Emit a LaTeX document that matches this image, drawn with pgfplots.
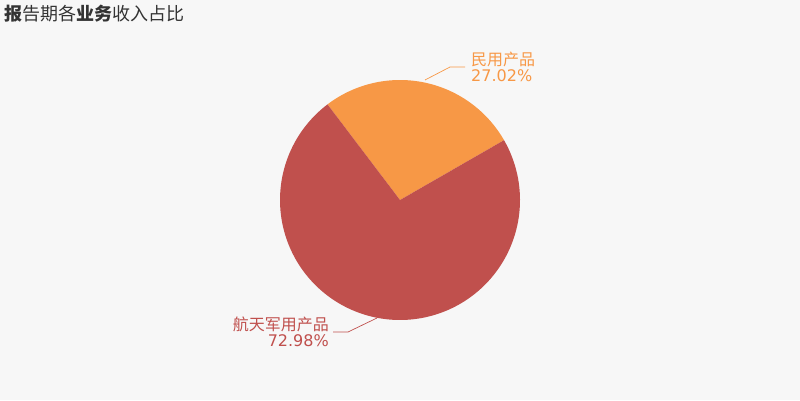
\documentclass[border=0pt]{standalone}
\usepackage{fontspec}
\setmainfont{DejaVu Sans}
\newfontfamily\cjk{Noto Sans CJK SC}
\usepackage{pgfplots}
\pgfplotsset{compat=1.18}
\usepackage{pgfplotstable}
\definecolor{bgc}{HTML}{F7F7F7}
\definecolor{orng}{HTML}{F79846}
\definecolor{redc}{HTML}{C0504D}
\definecolor{titc}{HTML}{333333}
\pgfplotstableread{
name value
civil 27.02
military 72.98
}\piedata
\begin{document}
\begin{tikzpicture}[x=1pt,y=1pt]
\fill[bgc] (0,0) rectangle (800,400);
\pgfplotstablegetelem{0}{value}\of\piedata \let\va\pgfplotsretval
\pgfplotstablegetelem{1}{value}\of\piedata \let\vb\pgfplotsretval
\pgfmathsetmacro{\sa}{29.9}
\pgfmathsetmacro{\ea}{\sa+\va*3.6}
\pgfmathsetmacro{\eb}{\ea+\vb*3.6}
\begin{axis}[at={(0,0)},anchor=south west,
  width=800pt,height=400pt,scale only axis,
  xmin=0,xmax=800,ymin=0,ymax=400,
  axis lines=none,clip=false]
\addplot[fill=orng,draw=none,domain=\sa:\ea,samples=80]
  ({400+120*cos(x)},{200+120*sin(x)}) -- (axis cs:400,200) -- cycle;
\addplot[fill=redc,draw=none,domain=\ea:\eb,samples=160]
  ({400+120*cos(x)},{200+120*sin(x)}) -- (axis cs:400,200) -- cycle;
% leader lines
\addplot[orng,line width=0.7pt,mark=none] coordinates {(425,320) (450,333) (465,333)};
\addplot[redc,line width=0.7pt,mark=none] coordinates {(377,82) (348,68) (333,68)};
\node[anchor=west,text=orng,font=\fontsize{16}{15.5}\selectfont,align=left,inner sep=0pt]
  at (axis cs:471,333) {{\cjk 民用产品}\\27.02\%};
\node[anchor=east,text=redc,font=\fontsize{16}{15.5}\selectfont,align=right,inner sep=0pt]
  at (axis cs:329,68) {{\cjk 航天军用产品}\\72.98\%};
\end{axis}
\node[anchor=west,text=titc,inner sep=0pt,font=\fontsize{18}{18}\selectfont\cjk] at (4,386)
  {\textbf{报}告期各\textbf{业务}收入占比};
\end{tikzpicture}
\end{document}
